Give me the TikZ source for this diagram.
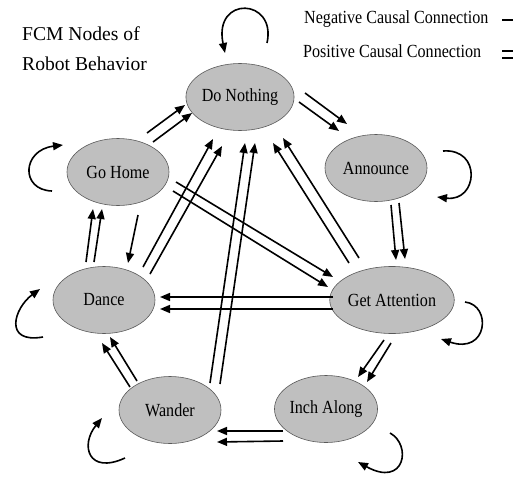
\documentclass[tikz,border=0pt]{standalone}
\usepackage{fontspec}
\setmainfont{Liberation Serif}
\newfontfamily\narrowserif{Liberation Serif}[FakeStretch=0.87]
\usetikzlibrary{arrows.meta, calc, shapes.geometric}
\tikzset{
  behavior/.style={ellipse,draw=black!65,line width=0.6pt,fill=black!25,minimum width=102pt,minimum height=67pt,inner sep=0pt,font=\narrowserif\fontsize{18.5}{20}\selectfont},
  line/.style={-{Triangle[length=10pt,width=8pt]},line width=1.6pt},
  legend/.style={font=\narrowserif\fontsize{18.5}{20}\selectfont,inner sep=0pt},
  title/.style={font=\fontsize{19.6}{30}\selectfont,align=left,inner sep=0pt},
  bar/.style={line width=2pt}
}

\begin{document}
\begin{tikzpicture}[x=1pt,y=-1pt]
\useasboundingbox (0,0) rectangle (518,476);
\node[title, anchor=base west] (title) at (22,71) {FCM Nodes of\\Robot Behavior};
\node[legend, anchor=base west] (neg) at (304,24) {Negative Causal Connection};
\node[legend, anchor=base west] (pos) at (303,58) {Positive Causal Connection};
\draw[bar] (502,20) -- (513,20);
\draw[bar] (502,51) -- (513,51);
\draw[bar] (502,58) -- (513,58);

\node[behavior] (nothing) at (240,97) {Do Nothing};
\node[behavior] (announce) at (376,168) {Announce};
\node[behavior] (home) at (118,172) {Go Home};
\node[behavior] (dance) at (104,300) {Dance};
\node[behavior] (attn) at (392,300) {Get Attention};
\node[behavior] (wander) at (170,410) {Wander};
\node[behavior] (inch) at (326,409) {Inch Along};

\draw[line] ($(nothing)+(27,-54)$) .. controls ($(nothing)+(37,-99)$) and ($(nothing)+(-27,-102)$) .. ($(nothing)+(-15,-44)$);
\draw[line] ($(announce)+(67,-17)$) .. controls ($(announce)+(106,-20)$) and ($(announce)+(102,34)$) .. ($(announce)+(61,29)$);
\draw[line] ($(attn)+(73,2)$) .. controls ($(attn)+(100,5)$) and ($(attn)+(96,55)$) .. ($(attn)+(49,39)$);
\draw[line] ($(inch)+(64,24)$) .. controls ($(inch)+(86,36)$) and ($(inch)+(79,79)$) .. ($(inch)+(32,53)$);
\draw[line] ($(wander)+(-45,48)$) .. controls ($(wander)+(-82,65)$) and ($(wander)+(-90,35)$) .. ($(wander)+(-68,8)$);
\draw[line] ($(dance)+(-61,37)$) .. controls ($(dance)+(-101,44)$) and ($(dance)+(-90,8)$) .. ($(dance)+(-64,-11)$);
\draw[line] ($(home)+(-66,19)$) .. controls ($(home)+(-98,18)$) and ($(home)+(-96,-22)$) .. ($(home)+(-55,-27)$);

\draw[line] ($(home)+(29,-39)$) -- ($(nothing)+(-55,8)$);
\draw[line] ($(home)+(35,-30)$) -- ($(nothing)+(-48,16)$);
\draw[line] ($(nothing)+(65,-4)$) -- ($(announce)+(-29,-44)$);
\draw[line] ($(nothing)+(59,5)$) -- ($(announce)+(-37,-37)$);
\draw[line] ($(announce)+(15,37)$) -- ($(attn)+(4,-40)$);
\draw[line] ($(announce)+(23,35)$) -- ($(attn)+(13,-41)$);
\draw[line] ($(attn)+(-43,-37)$) -- ($(nothing)+(33,46)$);
\draw[line] ($(attn)+(-33,-42)$) -- ($(nothing)+(43,41)$);
\draw[line] ($(home)+(58,10)$) -- ($(attn)+(-59,-23)$);
\draw[line] ($(home)+(55,19)$) -- ($(attn)+(-64,-13)$);
\draw[line] ($(attn)+(-59,-3)$) -- ($(dance)+(56,-3)$);
\draw[line] ($(attn)+(-59,9)$) -- ($(dance)+(56,9)$);
\draw[line] ($(dance)+(-18,-38)$) -- ($(home)+(-25,37)$);
\draw[line] ($(dance)+(-10,-38)$) -- ($(home)+(-16,37)$);
\draw[line] ($(home)+(20,43)$) -- ($(dance)+(24,-37)$);
\draw[line] ($(dance)+(39,-33)$) -- ($(nothing)+(-27,42)$);
\draw[line] ($(dance)+(46,-26)$) -- ($(nothing)+(-18,49)$);
\draw[line] ($(wander)+(40,-27)$) -- ($(nothing)+(5,46)$);
\draw[line] ($(wander)+(50,-26)$) -- ($(nothing)+(15,46)$);
\draw[line] ($(wander)+(-40,-23)$) -- ($(dance)+(-2,43)$);
\draw[line] ($(wander)+(-33,-29)$) -- ($(dance)+(6,37)$);
\draw[line] ($(inch)+(-43,22)$) -- ($(wander)+(47,21)$);
\draw[line] ($(inch)+(-43,32)$) -- ($(wander)+(47,32)$);
\draw[line] ($(attn)+(-8,40)$) -- ($(inch)+(32,-32)$);
\draw[line] ($(attn)+(-1,43)$) -- ($(inch)+(41,-27)$);
\end{tikzpicture}
\end{document}
